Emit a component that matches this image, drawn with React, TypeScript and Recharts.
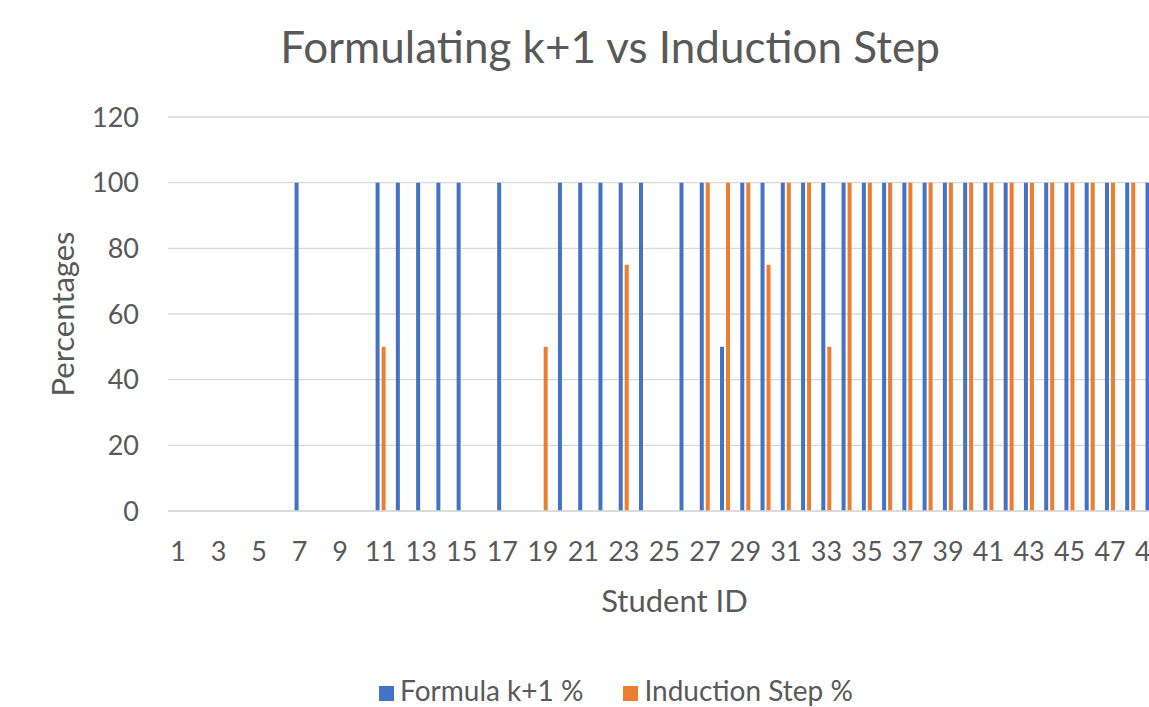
import React from "react";
import {
  BarChart,
  Bar,
  XAxis,
  YAxis,
  CartesianGrid,
  Legend,
  Label,
} from "recharts";

const studentIds = [
  "1", "2", "3", "4", "5", "6", "7", "8", "9", "10",
  "11", "12", "13", "14", "15", "16", "17", "18", "19", "20",
  "21", "22", "23", "24", "25", "26", "27", "28", "29", "30",
  "31", "32", "33", "34", "35", "36", "37", "38", "39", "40",
  "41", "42", "43", "44", "45", "46", "47", "48", "49", "50",
];

const formulaPct = [
  0, 0, 0, 0, 0, 0, 100, 0, 0, 0,
  100, 100, 100, 100, 100, 0, 100, 0, 0, 100,
  100, 100, 100, 100, 0, 100, 100, 50, 100, 100,
  100, 100, 100, 100, 100, 100, 100, 100, 100, 100,
  100, 100, 100, 100, 100, 100, 100, 100, 100, 100,
];

const inductionPct = [
  0, 0, 0, 0, 0, 0, 0, 0, 0, 0,
  50, 0, 0, 0, 0, 0, 0, 0, 50, 0,
  0, 0, 75, 0, 0, 0, 100, 100, 100, 75,
  100, 100, 50, 100, 100, 100, 100, 100, 100, 100,
  100, 100, 100, 100, 100, 100, 100, 100, 100, 100,
];

const yTicks = [0, 20, 40, 60, 80, 100, 120];

const BLUE = "#4472C4";
const ORANGE = "#ED7D31";
const TEXT = "#595959";
const GRID = "#d9d9d9";
const FONT = "Lato, 'Open Sans', sans-serif";

const data = studentIds.map((id, i) => ({
  id,
  formula: formulaPct[i],
  induction: inductionPct[i],
}));

// eslint-disable-next-line @typescript-eslint/no-explicit-any
function LegendBox({ payload }: any) {
  return (
    <div
      style={{
        height: 40,
        paddingTop: 8,
        boxSizing: "border-box",
        textAlign: "center",
        fontFamily: FONT,
        fontSize: 28,
        lineHeight: "30px",
        color: TEXT,
        whiteSpace: "nowrap",
      }}
    >
      {(payload || []).map((p: any, i: number) => (
        <span
          key={p.value}
          style={{ display: "inline-block", marginLeft: i === 0 ? 0 : 40 }}
        >
          <span
            style={{
              display: "inline-block",
              width: 15,
              height: 15,
              marginRight: 6,
              backgroundColor: p.color,
            }}
          />
          {p.value}
        </span>
      ))}
    </div>
  );
}

export default function App() {
  return (
    <div
      style={{
        position: "absolute",
        left: 0,
        top: 0,
        width: 1149,
        height: 707,
        overflow: "hidden",
        background: "#fff",
      }}
    >
      <div
        style={{
          position: "absolute",
          left: 0,
          top: 24,
          width: 1220,
          textAlign: "center",
          fontFamily: FONT,
          fontSize: 44,
          lineHeight: "44px",
          color: TEXT,
          whiteSpace: "nowrap",
        }}
      >
        Formulating k+1 vs Induction Step
      </div>
      <BarChart
        width={1226}
        height={707}
        data={data}
        margin={{ top: 117, right: 45, bottom: 0, left: 0 }}
        barSize={4}
        barGap={2}
        style={{ fontFamily: FONT }}
      >
        <CartesianGrid vertical={false} stroke={GRID} strokeWidth={1.3} />
        <XAxis
          dataKey="id"
          interval={1}
          height={156}
          tickLine={false}
          axisLine={{ stroke: GRID, strokeWidth: 1.3 }}
          tick={{ fontSize: 27, fill: TEXT }}
          tickMargin={25}
        >
          <Label
            value="Student ID"
            position="insideTop"
            offset={79}
            style={{ fontSize: 31, fill: TEXT }}
          />
        </XAxis>
        <YAxis
          width={168}
          domain={[0, 120]}
          ticks={yTicks}
          axisLine={false}
          tickLine={false}
          tick={{ fontSize: 27, fill: TEXT }}
          tickMargin={23}
        >
          <Label
            value="Percentages"
            angle={-90}
            position="insideLeft"
            offset={63}
            style={{ fontSize: 31, fill: TEXT, textAnchor: "middle" }}
          />
        </YAxis>
        <Legend
          verticalAlign="bottom"
          content={<LegendBox />}
          wrapperStyle={{ left: 0, width: 1232, bottom: 0 }}
        />
        <Bar
          dataKey="formula"
          name="Formula k+1 %"
          fill={BLUE}
          isAnimationActive={false}
        />
        <Bar
          dataKey="induction"
          name="Induction Step %"
          fill={ORANGE}
          isAnimationActive={false}
        />
      </BarChart>
    </div>
  );
}
